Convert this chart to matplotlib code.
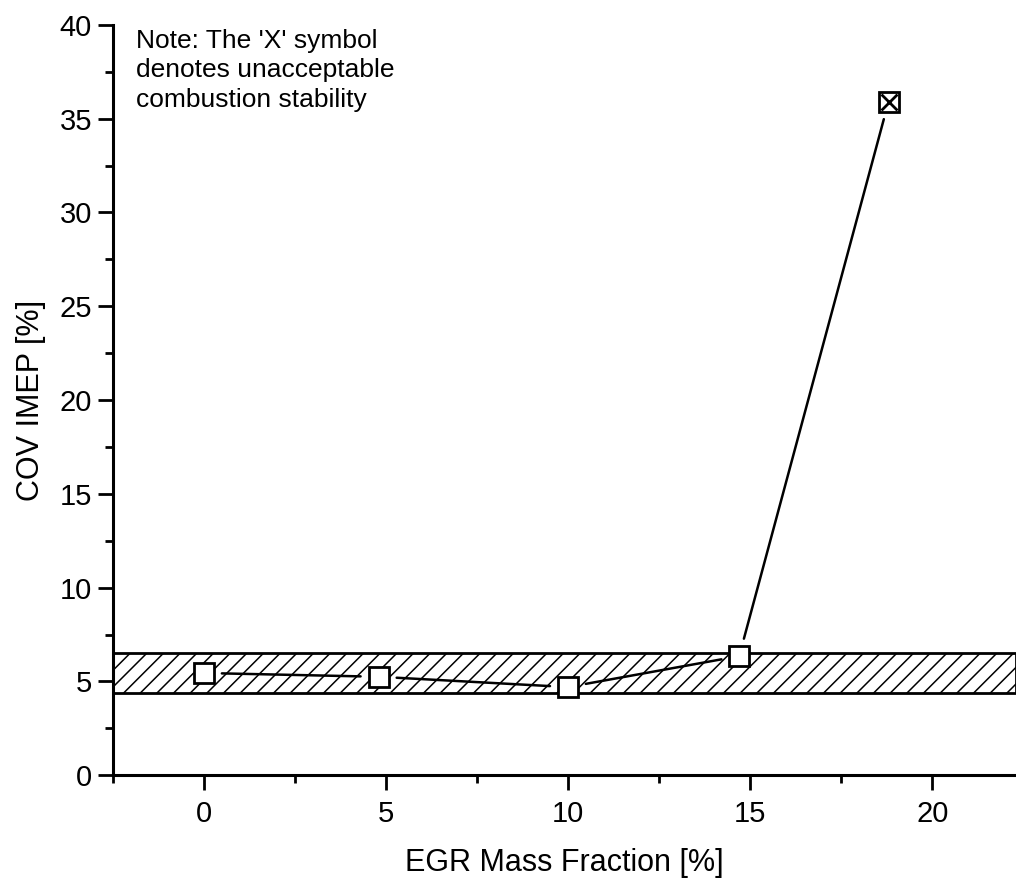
import numpy as np
import matplotlib
matplotlib.use('Agg')
import matplotlib.pyplot as plt
from matplotlib.ticker import MultipleLocator

# data
egr = [0.0, 4.8, 10.0, 14.7, 18.8]
cov_imep = [5.45, 5.25, 4.7, 6.35, 35.9]
unstable = [False, False, False, False, True]
band_low = 4.4
band_high = 6.5

plt.rcParams['font.family'] = ['Liberation Sans', 'DejaVu Sans']
plt.rcParams['hatch.linewidth'] = 1.1

fig = plt.figure(figsize=(10.16, 8.86), dpi=100)
ax = fig.add_axes([0.111, 0.125, 0.889, 0.847])

ax.axhspan(band_low, band_high, facecolor='white', edgecolor='black',
           hatch='//', linewidth=2.0, zorder=1)

# connecting segments stop a little short of the markers
for i in range(len(egr) - 1):
    ax.annotate('', xy=(egr[i + 1], cov_imep[i + 1]), xytext=(egr[i], cov_imep[i]),
                arrowprops=dict(arrowstyle='-', color='black', lw=1.8,
                                shrinkA=13, shrinkB=13), zorder=2)

ax.plot(egr, cov_imep, linestyle='none', marker='s', markersize=15,
        markerfacecolor='white', markeredgecolor='black',
        markeredgewidth=2.0, zorder=4)
bad_x = [x for x, u in zip(egr, unstable) if u]
bad_y = [y for y, u in zip(cov_imep, unstable) if u]
ax.plot(bad_x, bad_y, linestyle='none', marker='x', markersize=11,
        markeredgecolor='black', markeredgewidth=2.0, zorder=5)

ax.set_xlim(-2.5, 22.3)
ax.set_ylim(0, 40)
ax.xaxis.set_major_locator(MultipleLocator(5))
ax.xaxis.set_minor_locator(MultipleLocator(2.5))
ax.yaxis.set_major_locator(MultipleLocator(5))
ax.yaxis.set_minor_locator(MultipleLocator(2.5))
ax.tick_params(which='major', direction='out', length=11, width=2, labelsize=21)
ax.tick_params(axis='x', which='major', pad=7)
ax.tick_params(axis='y', which='major', pad=4)
ax.tick_params(which='minor', direction='out', length=6, width=2)

for side in ['top', 'right']:
    ax.spines[side].set_visible(False)
for side in ['left', 'bottom']:
    ax.spines[side].set_linewidth(2.2)

ax.set_xlabel('EGR Mass Fraction [%]', fontsize=22, labelpad=14)
ax.set_ylabel('COV IMEP [%]', fontsize=22, labelpad=10)

ax.text(0.026, 0.995, "Note: The 'X' symbol\ndenotes unacceptable\ncombustion stability",
        transform=ax.transAxes, ha='left', va='top', fontsize=19, linespacing=1.3)

fig.savefig('out.png', dpi=100)
